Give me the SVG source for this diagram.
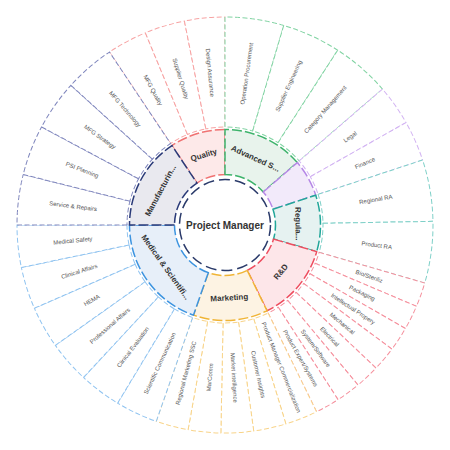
<svg xmlns="http://www.w3.org/2000/svg" xmlns:xlink="http://www.w3.org/1999/xlink" width="450" height="450" viewBox="0 0 450 450">
<style>
.out{fill:#ffffff;stroke-width:1;stroke-dasharray:5 2.5}
.in{stroke-width:1.5;stroke-dasharray:10 3}
.lbl{font-family:"Liberation Sans",Arial,sans-serif;font-size:6px;fill:#555555;text-anchor:middle;dominant-baseline:central}
.cat{font-family:"Liberation Sans",Arial,sans-serif;font-size:8px;font-weight:bold;fill:#333333;text-anchor:middle;dominant-baseline:central}
.q-o{stroke:#f7a3a3}.q-i{fill:#fde9e9;stroke:#f07272}
.a-o{stroke:#80d3a2}.a-i{fill:#e8f3ec;stroke:#3db36b}
.p-o{stroke:#d2b3f2}.p-i{fill:#f2eafa;stroke:#b587e6}
.r-o{stroke:#7fd0c8}.r-i{fill:#e6f2f1;stroke:#22a699}
.d-o{stroke:#f5909d}.d-i{fill:#fde6e9;stroke:#ee4d5f}
.m-o{stroke:#f8d48a}.m-i{fill:#fdf3e3;stroke:#f0b435}
.s-o{stroke:#8fc3f0}.s-i{fill:#e7eff9;stroke:#3d94e0}
.f-o{stroke:#7f86bd}.f-i{fill:#e9e9ef;stroke:#2a3a78}
</style>
<defs>
<path id="o1125" d="M225 127 L225 17 A208 208 0 0 1 265.58 21.00 L244.12 128.88 A98 98 0 0 0 225 127 Z"/>
<path id="o164" d="M225 127 L225 17 A208 208 0 0 1 283.73 25.46 L252.67 130.99 A98 98 0 0 0 225 127 Z"/>
<path id="o113" d="M225 127 L225 17 A208 208 0 0 1 265.76 21.03 L244.20 128.90 A98 98 0 0 0 225 127 Z"/>
<path id="o172" d="M225 127 L225 17 A208 208 0 0 1 286.51 26.30 L253.98 131.38 A98 98 0 0 0 225 127 Z"/>
<path id="o068" d="M225 127 L225 17 A208 208 0 0 1 249.68 18.47 L236.63 127.69 A98 98 0 0 0 225 127 Z"/>
<path id="o091" d="M225 127 L225 17 A208 208 0 0 1 257.83 19.61 L240.47 128.23 A98 98 0 0 0 225 127 Z"/>
<path id="o118" d="M225 127 L225 17 A208 208 0 0 1 267.47 21.38 L245.01 129.06 A98 98 0 0 0 225 127 Z"/>
<path id="o141" d="M225 127 L225 17 A208 208 0 0 1 275.54 23.23 L248.81 129.94 A98 98 0 0 0 225 127 Z"/>
</defs>

<!-- Outer ring: Quality -->
<g id="mfg-quality"><use xlink:href="#o1125" class="out q-o" transform="rotate(-33.75 225 225)"/><text class="lbl" transform="rotate(-28.125 225 225) translate(225 72) rotate(90)">MFG Quality</text></g>
<g id="supplier-quality"><use xlink:href="#o1125" class="out q-o" transform="rotate(-22.5 225 225)"/><text class="lbl" transform="rotate(-16.875 225 225) translate(225 72) rotate(90)">Supplier Quality</text></g>
<g id="design-assurance"><use xlink:href="#o1125" class="out q-o" transform="rotate(-11.25 225 225)"/><text class="lbl" transform="rotate(-5.625 225 225) translate(225 72) rotate(90)">Design Assurance</text></g>
<!-- Advanced S -->
<g id="operation-procurement"><use xlink:href="#o164" class="out a-o" transform="rotate(0 225 225)"/><text class="lbl" transform="rotate(8.2 225 225) translate(225 72) rotate(-90)">Operation Procurement</text></g>
<g id="supplier-engineering"><use xlink:href="#o164" class="out a-o" transform="rotate(16.4 225 225)"/><text class="lbl" transform="rotate(24.6 225 225) translate(225 72) rotate(-90)">Supplier Engineering</text></g>
<g id="category-management"><use xlink:href="#o164" class="out a-o" transform="rotate(32.8 225 225)"/><text class="lbl" transform="rotate(41 225 225) translate(225 72) rotate(-90)">Category Management</text></g>
<!-- Purple -->
<g id="legal"><use xlink:href="#o113" class="out p-o" transform="rotate(49.2 225 225)"/><text class="lbl" transform="rotate(54.85 225 225) translate(225 72) rotate(-90)">Legal</text></g>
<g id="finance"><use xlink:href="#o113" class="out p-o" transform="rotate(60.5 225 225)"/><text class="lbl" transform="rotate(66.15 225 225) translate(225 72) rotate(-90)">Finance</text></g>
<!-- Regula -->
<g id="regional-ra"><use xlink:href="#o172" class="out r-o" transform="rotate(71.8 225 225)"/><text class="lbl" transform="rotate(80.4 225 225) translate(225 72) rotate(-90)">Regional RA</text></g>
<g id="product-ra"><use xlink:href="#o172" class="out r-o" transform="rotate(89 225 225)"/><text class="lbl" transform="rotate(97.6 225 225) translate(225 72) rotate(-90)">Product RA</text></g>
<!-- R&D -->
<g id="bio-steriliz"><use xlink:href="#o068" class="out d-o" transform="rotate(106.2 225 225)"/><text class="lbl" transform="rotate(109.607 225 225) translate(225 72) rotate(-90)">Bio/Steriliz</text></g>
<g id="packaging"><use xlink:href="#o068" class="out d-o" transform="rotate(113.014 225 225)"/><text class="lbl" transform="rotate(116.421 225 225) translate(225 72) rotate(-90)">Packaging</text></g>
<g id="intellectual-property"><use xlink:href="#o068" class="out d-o" transform="rotate(119.828 225 225)"/><text class="lbl" transform="rotate(123.235 225 225) translate(225 72) rotate(-90)">Intellectual Propery</text></g>
<g id="mechanical"><use xlink:href="#o068" class="out d-o" transform="rotate(126.642 225 225)"/><text class="lbl" transform="rotate(130.049 225 225) translate(225 72) rotate(-90)">Mechanical</text></g>
<g id="electrical"><use xlink:href="#o068" class="out d-o" transform="rotate(133.456 225 225)"/><text class="lbl" transform="rotate(136.863 225 225) translate(225 72) rotate(-90)">Electrical</text></g>
<g id="system-software"><use xlink:href="#o068" class="out d-o" transform="rotate(140.27 225 225)"/><text class="lbl" transform="rotate(143.677 225 225) translate(225 72) rotate(-90)">System/Software</text></g>
<g id="product-expert"><use xlink:href="#o068" class="out d-o" transform="rotate(147.084 225 225)"/><text class="lbl" transform="rotate(150.491 225 225) translate(225 72) rotate(-90)">Product Expert/Systems</text></g>
<!-- Marketing -->
<g id="pm-commercialization"><use xlink:href="#o091" class="out m-o" transform="rotate(153.9 225 225)"/><text class="lbl" transform="rotate(158.44 225 225) translate(225 72) rotate(-90)">Product Manager Commercialization</text></g>
<g id="customer-insights"><use xlink:href="#o091" class="out m-o" transform="rotate(162.98 225 225)"/><text class="lbl" transform="rotate(167.52 225 225) translate(225 72) rotate(-90)">Customer Insights</text></g>
<g id="market-intelligence"><use xlink:href="#o091" class="out m-o" transform="rotate(172.06 225 225)"/><text class="lbl" transform="rotate(176.6 225 225) translate(225 72) rotate(-90)">Market intelligence</text></g>
<g id="marcomm"><use xlink:href="#o091" class="out m-o" transform="rotate(181.14 225 225)"/><text class="lbl" transform="rotate(185.68 225 225) translate(225 72) rotate(90)">MarComm</text></g>
<g id="regional-marketing"><use xlink:href="#o091" class="out m-o" transform="rotate(190.22 225 225)"/><text class="lbl" transform="rotate(194.76 225 225) translate(225 72) rotate(90)">Regional Marketing SSC</text></g>
<!-- Medical -->
<g id="scientific-communication"><use xlink:href="#o118" class="out s-o" transform="rotate(199.3 225 225)"/><text class="lbl" transform="rotate(205.19 225 225) translate(225 72) rotate(90)">Scientific Communication</text></g>
<g id="clinical-evaluation"><use xlink:href="#o118" class="out s-o" transform="rotate(211.083 225 225)"/><text class="lbl" transform="rotate(216.97 225 225) translate(225 72) rotate(90)">Clinical Evaluation</text></g>
<g id="professional-affairs"><use xlink:href="#o118" class="out s-o" transform="rotate(222.866 225 225)"/><text class="lbl" transform="rotate(228.76 225 225) translate(225 72) rotate(90)">Professional Affairs</text></g>
<g id="hema"><use xlink:href="#o118" class="out s-o" transform="rotate(234.649 225 225)"/><text class="lbl" transform="rotate(240.54 225 225) translate(225 72) rotate(90)">HEMA</text></g>
<g id="clinical-affairs"><use xlink:href="#o118" class="out s-o" transform="rotate(246.432 225 225)"/><text class="lbl" transform="rotate(252.32 225 225) translate(225 72) rotate(90)">Clinical Affairs</text></g>
<g id="medical-safety"><use xlink:href="#o118" class="out s-o" transform="rotate(258.215 225 225)"/><text class="lbl" transform="rotate(264.11 225 225) translate(225 72) rotate(90)">Medical Safety</text></g>
<!-- Manufacturing -->
<g id="service-repairs"><use xlink:href="#o141" class="out f-o" transform="rotate(270 225 225)"/><text class="lbl" transform="rotate(277.03 225 225) translate(225 72) rotate(90)">Service &amp; Repairs</text></g>
<g id="psi-planning"><use xlink:href="#o141" class="out f-o" transform="rotate(284.0625 225 225)"/><text class="lbl" transform="rotate(291.09 225 225) translate(225 72) rotate(90)">PSI Planning</text></g>
<g id="mfg-strategy"><use xlink:href="#o141" class="out f-o" transform="rotate(298.125 225 225)"/><text class="lbl" transform="rotate(305.16 225 225) translate(225 72) rotate(90)">MFG Strategy</text></g>
<g id="mfg-technology"><use xlink:href="#o141" class="out f-o" transform="rotate(312.1875 225 225)"/><text class="lbl" transform="rotate(319.22 225 225) translate(225 72) rotate(90)">MFG Technology</text></g>

<!-- Inner ring -->
<g id="quality"><path class="in q-i" transform="rotate(-33.75 225 225)" d="M225 174.5 L225 129.5 A95.5 95.5 0 0 1 278.06 145.60 L253.06 183.01 A50.5 50.5 0 0 0 225 174.5 Z"/><text class="cat" transform="rotate(-16.875 225 225) translate(225 152)">Quality</text></g>
<g id="advanced-s"><path class="in a-i" d="M225 174.5 L225 129.5 A95.5 95.5 0 0 1 297.29 162.60 L263.23 192.00 A50.5 50.5 0 0 0 225 174.5 Z"/><text class="cat" transform="rotate(24.6 225 225) translate(225 152)">Advanced S...</text></g>
<g id="purple-group"><path class="in p-i" transform="rotate(49.2 225 225)" d="M225 174.5 L225 129.5 A95.5 95.5 0 0 1 261.70 136.83 L244.41 178.38 A50.5 50.5 0 0 0 225 174.5 Z"/></g>
<g id="regula"><path class="in r-i" transform="rotate(71.8 225 225)" d="M225 174.5 L225 129.5 A95.5 95.5 0 0 1 278.96 146.20 L253.53 183.33 A50.5 50.5 0 0 0 225 174.5 Z"/><text class="cat" transform="rotate(89 225 225) translate(225 152)">Regula...</text></g>
<g id="rnd"><path class="in d-i" transform="rotate(106.2 225 225)" d="M225 174.5 L225 129.5 A95.5 95.5 0 0 1 295.64 160.73 L262.35 191.01 A50.5 50.5 0 0 0 225 174.5 Z"/><text class="cat" transform="rotate(130.05 225 225) translate(225 152) rotate(180)">R&amp;D</text></g>
<g id="marketing"><path class="in m-i" transform="rotate(153.9 225 225)" d="M225 174.5 L225 129.5 A95.5 95.5 0 0 1 293.00 157.94 L260.96 189.54 A50.5 50.5 0 0 0 225 174.5 Z"/><text class="cat" transform="rotate(176.6 225 225) translate(225 152) rotate(180)">Marketing</text></g>
<g id="medical-scientific"><path class="in s-i" transform="rotate(199.3 225 225)" d="M225 174.5 L225 129.5 A95.5 95.5 0 0 1 315.14 193.43 L272.67 208.31 A50.5 50.5 0 0 0 225 174.5 Z"/><text class="cat" transform="rotate(234.65 225 225) translate(225 152) rotate(180)">Medical &amp; Scientifi...</text></g>
<g id="manufacturing"><path class="in f-i" transform="rotate(270 225 225)" d="M225 174.5 L225 129.5 A95.5 95.5 0 0 1 304.40 171.94 L266.99 196.94 A50.5 50.5 0 0 0 225 174.5 Z"/><text class="cat" transform="rotate(298.125 225 225) translate(225 152)">Manufacturin...</text></g>

<!-- Center -->
<g id="project-manager"><circle cx="225" cy="225" r="45.5" fill="#ffffff" stroke="#2a3a6a" stroke-width="1.5" stroke-dasharray="11 5"/><text x="225" y="225" font-family="Liberation Sans, Arial, sans-serif" font-size="10" font-weight="bold" fill="#333333" text-anchor="middle" dominant-baseline="central">Project Manager</text></g>
</svg>
